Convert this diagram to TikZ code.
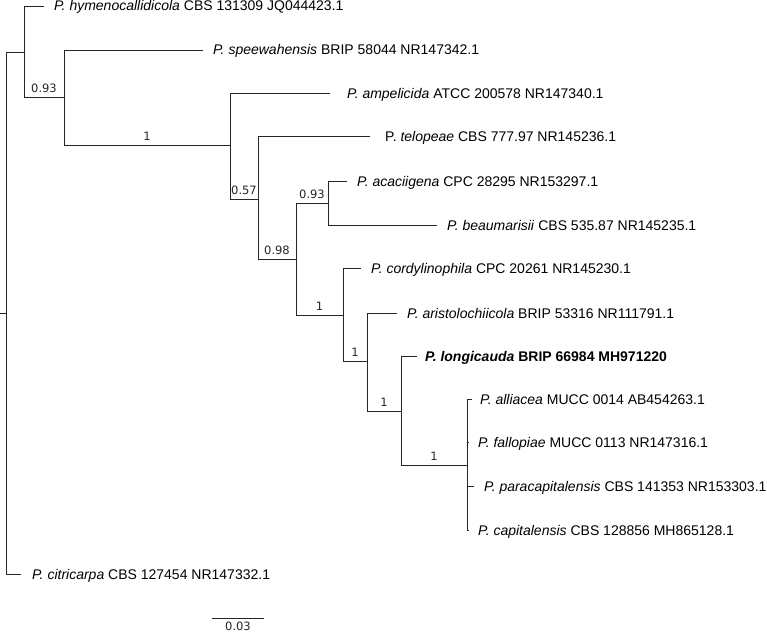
\documentclass[tikz,border=0pt]{standalone}
\usepackage{fontspec}
\setmainfont{Liberation Sans}
\newfontfamily\supfont{DejaVu Sans}
\usetikzlibrary{positioning}
\tikzset{
  br/.style={black!85, line width=0.9pt},
  leaf/.style={anchor=west, font=\fontsize{14}{16}\selectfont, inner xsep=10pt,
               inner ysep=0pt, text height=10pt, text depth=0pt},
  supp/.style={font=\supfont\fontsize{11.5}{13}\selectfont, inner ysep=4pt, inner xsep=0pt},
}

\begin{document}
\begin{tikzpicture}[x=1pt, y=-1pt]
  \useasboundingbox (0,0) rectangle (767,634);
  % internal nodes
  \coordinate (base) at (0,313);
  \coordinate (root) at (6,313);
  \coordinate (nA) at (24,52);
  \coordinate (nB) at (64,97);
  \coordinate (nC) at (230,145);
  \coordinate (nD) at (258,199);
  \coordinate (nF) at (296,259);
  \coordinate (nE) at (328,203);
  \coordinate (nG) at (343,315);
  \coordinate (nH) at (367,361);
  \coordinate (nI) at (401,411);
  \coordinate (nJ) at (467,465);
  % leaves
  \node[leaf] (hym) at (44,6) {\textit{P. hymenocallidicola} CBS 131309 JQ044423.1};
  \node[leaf] (spe) at (203,50) {\textit{P. speewahensis} BRIP 58044 NR147342.1};
  \node[leaf, inner xsep=17pt] (amp) at (330,93) {\textit{P. ampelicida} ATCC 200578 NR147340.1};
  \node[leaf, inner xsep=15pt] (tel) at (370,136) {P. \textit{telopeae} CBS 777.97 NR145236.1};
  \node[leaf] (aca) at (347,181) {\textit{P. acaciigena} CPC 28295 NR153297.1};
  \node[leaf] (bea) at (437,225) {\textit{P. beaumarisii} CBS 535.87 NR145235.1};
  \node[leaf] (cor) at (361,268) {\textit{P. cordylinophila} CPC 20261 NR145230.1};
  \node[leaf] (ari) at (397,313) {\textit{P. aristolochiicola} BRIP 53316 NR111791.1};
  \node[leaf, inner xsep=8pt] (lon) at (417,356) {\bfseries\textit{P. longicauda} BRIP 66984 MH971220};
  \node[leaf, inner xsep=8pt] (all) at (472,399) {\textit{P. alliacea} MUCC 0014 AB454263.1};
  \node[leaf, inner xsep=9pt] (fal) at (469,442) {\textit{P. fallopiae} MUCC 0113 NR147316.1};
  \node[leaf, inner xsep=10pt] (par) at (474,486) {\textit{P. paracapitalensis} CBS 141353 NR153303.1};
  \node[leaf, inner xsep=9pt] (cap) at (469,530) {\textit{P. capitalensis} CBS 128856 MH865128.1};
  \node[leaf, inner xsep=11pt] (cit) at (21,574) {\textit{P. citricarpa} CBS 127454 NR147332.1};
  % branches
  \draw[br] (base) -- (root);
  \draw[br] (root) |- (nA);
  \draw[br] (root) |- (cit.west);
  \draw[br] (nA) |- (hym.west);
  \draw[br] (nA) |- node[supp, pos=0.75, above] {0.93} (nB);
  \draw[br] (nB) |- (spe.west);
  \draw[br] (nB) |- node[supp, pos=0.75, above] {1} (nC);
  \draw[br] (nC) |- (amp.west);
  \draw[br] (nC) |- node[supp, pos=0.75, above] {0.57} (nD);
  \draw[br] (nD) |- (tel.west);
  \draw[br] (nD) |- node[supp, pos=0.75, above] {0.98} (nF);
  \draw[br] (nF) |- node[supp, pos=0.75, above] {0.93} (nE);
  \draw[br] (nF) |- node[supp, pos=0.75, above] {1} (nG);
  \draw[br] (nE) |- (aca.west);
  \draw[br] (nE) |- (bea.west);
  \draw[br] (nG) |- (cor.west);
  \draw[br] (nG) |- node[supp, pos=0.75, above] {1} (nH);
  \draw[br] (nH) |- (ari.west);
  \draw[br] (nH) |- node[supp, pos=0.75, above] {1} (nI);
  \draw[br] (nI) |- (lon.west);
  \draw[br] (nI) |- node[supp, pos=0.75, above] {1} (nJ);
  \foreach \t in {all,fal,par,cap}{\draw[br] (nJ) |- (\t.west);}
  % scale bar
  \coordinate (sbl) at (212,618);
  \coordinate (sbr) at (264,618);
  \draw[br] (sbl) -- node[supp, below, inner ysep=3.5pt] {0.03} (sbr);
\end{tikzpicture}
\end{document}
